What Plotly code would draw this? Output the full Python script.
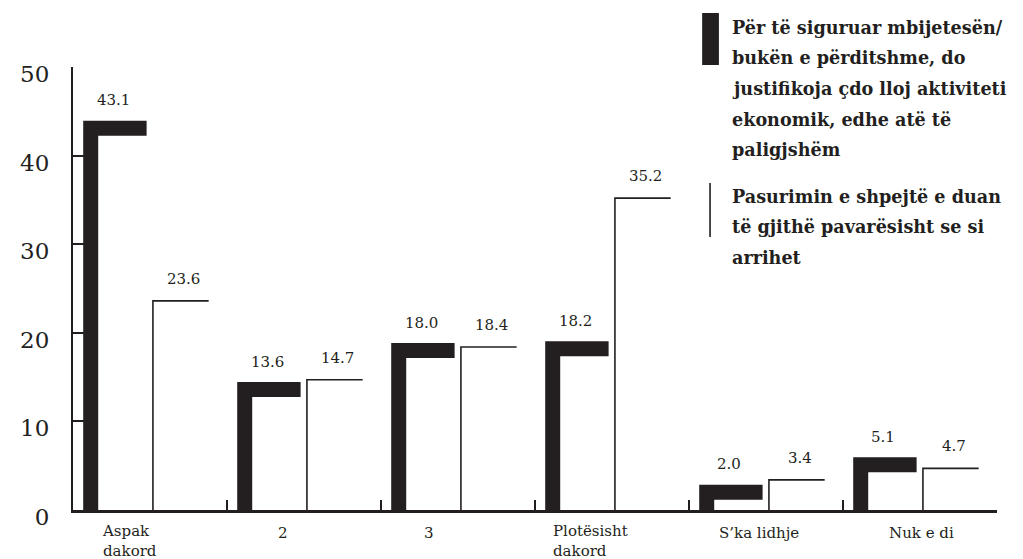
"""Grafik me shtylla në formë këndi për dy pohime."""

import plotly.graph_objects as go

# të dhënat
kategorite = ["Aspak\ndakord", "2", "3", "Plotësisht\ndakord", "S’ka lidhje", "Nuk e di"]
mbijetesa = [43.1, 13.6, 18.0, 18.2, 2.0, 5.1]
pasurimi = [23.6, 14.7, 18.4, 35.2, 3.4, 4.7]
y_ticks = [0, 10, 20, 30, 40, 50]

legjenda_1 = [
    "Për të siguruar mbijetesën/",
    "bukën e përditshme, do",
    "justifikoja çdo lloj aktiviteti",
    "ekonomik, edhe atë të",
    "paligjshëm",
]
legjenda_2 = [
    "Pasurimin e shpejtë e duan",
    "të gjithë pavarësisht se si",
    "arrihet",
]

ZI = "#231f20"
FONT = "DejaVu Serif"

# faqja ka 8px diferencë nga kënd i dritares
OFF = 8
W, H = 1023 - OFF, 559 - OFF
M_L, M_R, M_T, M_B = 60 - OFF, 26, 67 - OFF, 49
PW = W - M_L - M_R
PH = H - M_T - M_B

# pozicioni i shtyllave brenda kategorisë (njësi kategorie)
TRASH_X0, TRASH_X1 = 0.115, 0.478
HOLLE_X0, HOLLE_X1 = 0.519, 0.881
# zhvendosja e etiketave të kategorive (px nga fillimi i kategorisë)
LABEL_PX = [27, 50, 42, 16, 28, 45]


def kend(values, x0, x1):
    xs, ys = [], []
    for i, v in enumerate(values):
        xs += [i + x0, i + x0, i + x1, None]
        ys += [0, v, v, None]
    return xs, ys


def px_x(p):
    return (p - OFF - M_L) / PW


def px_y(p):
    return (H - M_B - (p - OFF)) / PH


fig = go.Figure()

x, y = kend(mbijetesa, TRASH_X0, TRASH_X1)
fig.add_trace(
    go.Scatter(
        x=x, y=y, mode="lines", line=dict(color=ZI, width=15),
        cliponaxis=False, hoverinfo="skip", showlegend=False,
    )
)
x, y = kend(pasurimi, HOLLE_X0, HOLLE_X1)
fig.add_trace(
    go.Scatter(
        x=x, y=y, mode="lines", line=dict(color=ZI, width=1.6),
        cliponaxis=False, hoverinfo="skip", showlegend=False,
    )
)

annotations = []
for i, (a, b) in enumerate(zip(mbijetesa, pasurimi)):
    annotations.append(dict(
        x=i + 0.26, y=a, text=f"{a:.1f}", showarrow=False,
        yanchor="middle", yshift=28, font=dict(size=15),
    ))
    annotations.append(dict(
        x=i + 0.72, y=b, text=f"{b:.1f}", showarrow=False,
        yanchor="middle", yshift=22, font=dict(size=15),
    ))

for i, kat in enumerate(kategorite):
    rreshta = kat.split("\n")
    annotations.append(dict(
        x=i + LABEL_PX[i] / (PW / 6), y=0, text="<br>".join(rreshta),
        showarrow=False, align="left", xanchor="left", yanchor="middle",
        yshift=-23 - 8 * (len(rreshta) - 1), font=dict(size=15),
    ))

for j, rresht in enumerate(legjenda_1):
    annotations.append(dict(
        xref="paper", yref="paper", x=px_x(726), y=px_y(27 + 30.7 * j),
        text=f"<b>{rresht}</b>", showarrow=False,
        xanchor="left", yanchor="middle", font=dict(size=17.6),
    ))
for j, rresht in enumerate(legjenda_2):
    annotations.append(dict(
        xref="paper", yref="paper", x=px_x(726), y=px_y(196 + 30.7 * j),
        text=f"<b>{rresht}</b>", showarrow=False,
        xanchor="left", yanchor="middle", font=dict(size=17.6),
    ))

shapes = [
    dict(
        type="rect", xref="paper", yref="paper",
        x0=px_x(698), x1=px_x(715), y0=px_y(65), y1=px_y(13),
        fillcolor=ZI, line=dict(width=0),
    ),
    dict(
        type="line", xref="paper", yref="paper",
        x0=px_x(706), x1=px_x(706), y0=px_y(237), y1=px_y(183),
        line=dict(color=ZI, width=1.6),
    ),
]

fig.update_layout(
    width=W,
    height=H,
    margin=dict(l=M_L, r=M_R, t=M_T, b=M_B),
    paper_bgcolor="white",
    plot_bgcolor="white",
    font=dict(family=FONT, color=ZI),
    showlegend=False,
    annotations=annotations,
    shapes=shapes,
    xaxis=dict(
        range=[0, 6],
        tickvals=list(range(7)),
        showticklabels=False,
        ticks="inside",
        ticklen=10,
        tickwidth=2,
        tickcolor=ZI,
        showline=True,
        linecolor=ZI,
        linewidth=2.5,
        showgrid=False,
        zeroline=False,
        fixedrange=True,
    ),
    yaxis=dict(
        range=[0, 50],
        tickvals=y_ticks,
        ticks="inside",
        ticklen=22,
        tickwidth=2,
        tickcolor=ZI,
        showline=True,
        linecolor=ZI,
        linewidth=2,
        showgrid=False,
        zeroline=False,
        layer="below traces",
        tickfont=dict(size=23),
        ticklabelstandoff=17,
        ticklabelshift=7,
        fixedrange=True,
    ),
)

fig.write_html("out.html")
